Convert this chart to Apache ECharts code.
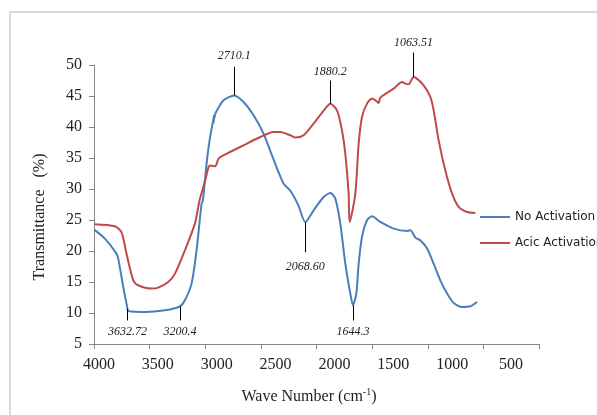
<!DOCTYPE html>
<html>
<head>
<meta charset="utf-8">
<script src="https://cdn.jsdelivr.net/npm/echarts@6/dist/echarts.min.js"></script>
<style>
  html, body { margin: 0; padding: 0; background: #fff; }
  #chart { width: 597px; height: 415px; }
</style>
</head>
<body>
<div id="chart"></div>
<script>
// wave number (cm-1) / transmittance (%)
var noActX = [3998, 3902, 3798, 3782, 3737, 3699, 3692, 3542, 3362, 3227, 3183, 3123, 3078, 3033, 3021, 2985, 2961, 2940, 2920, 2928, 2910, 2895, 2835, 2739, 2656, 2566, 2476, 2386, 2296, 2236, 2164, 2101, 2026, 1936, 1876, 1831, 1786, 1741, 1696, 1672, 1642, 1621, 1591, 1546, 1501, 1426, 1307, 1186, 1156, 1111, 1067, 1006, 947, 887, 826, 767, 692, 617, 557];
var noActY = [23.45, 22.0, 19.58, 18.77, 14.19, 10.71, 10.32, 10.16, 10.44, 11.08, 12.05, 14.74, 20.11, 27.65, 28.18, 34.63, 37.85, 40.0, 41.9, 40.6, 42.1, 42.67, 44.3, 45.1, 44.03, 41.89, 38.94, 34.76, 30.87, 29.76, 27.4, 24.68, 26.56, 28.71, 29.35, 28.45, 24.42, 17.97, 13.13, 11.24, 13.13, 17.97, 22.26, 24.95, 25.6, 24.68, 23.61, 23.23, 23.34, 22.16, 21.73, 20.39, 17.97, 15.27, 13.13, 11.61, 10.97, 11.08, 11.77];

var acidX = [3998, 3812, 3753, 3708, 3647, 3603, 3483, 3423, 3333, 3272, 3183, 3093, 3051, 3000, 2970, 2955, 2910, 2880, 2805, 2656, 2505, 2386, 2326, 2236, 2191, 2116, 2026, 1921, 1876, 1816, 1771, 1741, 1711, 1702, 1651, 1621, 1591, 1546, 1501, 1471, 1441, 1426, 1307, 1231, 1201, 1172, 1127, 1037, 977, 947, 902, 842, 781, 722, 647, 572];
var acidY = [24.31, 23.98, 23.06, 19.58, 15.27, 14.47, 13.94, 14.1, 15.0, 16.35, 20.11, 24.42, 28.18, 31.4, 33.55, 33.8, 33.66, 34.9, 35.7, 37.05, 38.39, 39.19, 39.19, 38.66, 38.29, 38.66, 40.55, 42.97, 43.77, 42.69, 39.47, 35.71, 29.26, 24.68, 29.26, 37.32, 41.61, 43.77, 44.58, 44.31, 43.87, 44.74, 46.19, 47.26, 47.0, 46.89, 48.06, 46.73, 44.84, 42.69, 37.85, 33.0, 29.26, 27.1, 26.29, 26.13];

// peak annotations: text, wave number, start and end of the pointer line
var peakText = ['2710.1', '1880.2', '1063.51', '2068.60', '3632.72', '3200.4', '1644.3'];
var peakX    = [2739, 1876, 1127, 2101, 3699, 3227, 1672];
var peakFrom = [45.1, 43.77, 48.06, 24.68, 10.71, 11.08, 11.24];
var peakTo   = [49.7, 47.5, 52.0, 19.8, 8.8, 8.8, 8.8];
var peakGap  = [5, 3, 4, 9, 5, 5, 5];

function zip(xs, ys) {
  return xs.map(function (x, i) { return [x, ys[i]]; });
}

var serif = 'Liberation Serif';
var axisGray = '#868686';

var peakLines = peakText.map(function (t, i) {
  return [
    { name: t, coord: [peakX[i], peakFrom[i]], label: { distance: peakGap[i] } },
    { coord: [peakX[i], peakTo[i]] }
  ];
});

var chart = echarts.init(document.getElementById('chart'));
chart.setOption({
  animation: false,
  backgroundColor: '#fff',
  grid: [
    { left: 94, right: 58, top: 65, bottom: 71 },   // plot
    { left: 94, right: 58, top: 34, bottom: 71 },   // annotation layer, same scale
    { left: 99, right: 86, top: 65, bottom: 71 }    // tick label row
  ],
  xAxis: [
    {
      type: 'value', gridIndex: 0, inverse: true, min: 0, max: 4000, interval: 500,
      axisLine: { onZero: false, lineStyle: { color: axisGray, width: 1 } },
      axisTick: { show: true, length: 5, lineStyle: { color: axisGray } },
      axisLabel: { show: false },
      splitLine: { show: false }
    },
    { type: 'value', gridIndex: 1, inverse: true, min: 0, max: 4000, show: false },
    {
      type: 'value', gridIndex: 2, inverse: true, min: 500, max: 4000, interval: 500,
      axisLine: { show: false, onZero: false }, axisTick: { show: false }, splitLine: { show: false },
      axisLabel: {
        margin: 13, fontFamily: serif, fontSize: 16, color: '#222',
        formatter: function (v) { return String(v); }
      }
    }
  ],
  yAxis: [
    {
      type: 'value', gridIndex: 0, min: 5, max: 50, interval: 5,
      axisLine: { show: true, onZero: false, lineStyle: { color: axisGray, width: 1 } },
      axisTick: { show: true, length: 5, lineStyle: { color: axisGray } },
      axisLabel: { margin: 12, fontFamily: serif, fontSize: 16, color: '#222' },
      splitLine: { show: false }
    },
    { type: 'value', gridIndex: 1, min: 5, max: 55, show: false },
    { type: 'value', gridIndex: 2, min: 0, max: 1, show: false }
  ],
  legend: {
    data: ['No Activation', 'Acic Activation'],
    orient: 'vertical',
    left: 475, top: 206,
    itemWidth: 30, itemHeight: 2, itemGap: 14,
    icon: 'rect',
    textStyle: { fontFamily: 'DejaVu Sans', fontSize: 12, color: '#222' }
  },
  series: [
    {
      name: 'No Activation', type: 'line', xAxisIndex: 0, yAxisIndex: 0,
      data: zip(noActX, noActY), showSymbol: false, smooth: 0.25,
      color: '#4a7ebb', lineStyle: { color: '#4a7ebb', width: 2 }
    },
    {
      name: 'Acic Activation', type: 'line', xAxisIndex: 0, yAxisIndex: 0,
      data: zip(acidX, acidY), showSymbol: false, smooth: 0.25,
      color: '#be4b48', lineStyle: { color: '#be4b48', width: 2 }
    },
    {
      type: 'line', xAxisIndex: 1, yAxisIndex: 1, data: [], clip: false, silent: true,
      markLine: {
        silent: true, symbol: ['none', 'none'], animation: false,
        lineStyle: { color: '#000', width: 1, type: 'solid' },
        label: {
          position: 'end', formatter: '{b}', fontFamily: serif, fontStyle: 'italic',
          fontSize: 12, color: '#222'
        },
        emphasis: { disabled: true },
        data: peakLines
      }
    }
  ],
  graphic: [
    {
      type: 'rect', silent: true,
      shape: { x: 10, y: 12, width: 700, height: 500 },
      style: { fill: 'none', stroke: '#d9d9d9', lineWidth: 2 }
    },
    {
      type: 'text', x: 40, y: 217, rotation: Math.PI / 2,
      style: {
        text: 'Transmittance   (%)', font: '16px "Liberation Serif"', fill: '#222',
        align: 'center', verticalAlign: 'middle'
      }
    },
    {
      type: 'text', x: 309, y: 397,
      style: {
        text: '{a|Wave Number (cm}{s|-1}{a|)}',
        align: 'center', verticalAlign: 'middle', fill: '#222',
        rich: {
          a: { fontFamily: serif, fontSize: 16, lineHeight: 20, fill: '#222' },
          s: { fontFamily: serif, fontSize: 10, verticalAlign: 'top', lineHeight: 20, fill: '#222' }
        }
      }
    }
  ]
});
</script>
</body>
</html>
